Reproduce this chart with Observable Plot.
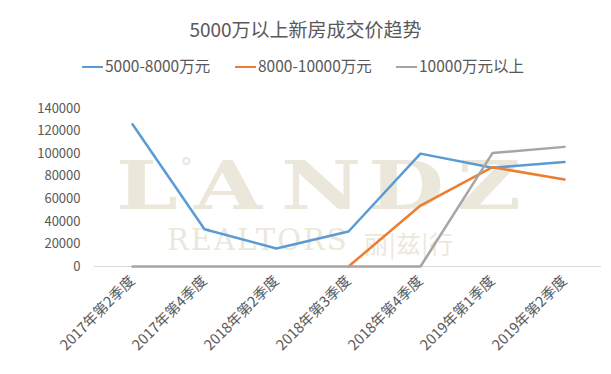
<!DOCTYPE html>
<html>
<head>
<meta charset="utf-8">
<script src="https://cdn.jsdelivr.net/npm/d3@7"></script>
<script src="https://cdn.jsdelivr.net/npm/@observablehq/plot@0.6"></script>
<style>
  html, body { margin: 0; padding: 0; background: #fff; }
  #wrap { position: relative; width: 611px; height: 374px; font-family: "Noto Sans CJK SC", "Noto Sans", sans-serif; color: #595959; overflow: hidden; }
  #title { position: absolute; left: 0; width: 611px; top: 16px; text-align: center; font-size: 19px; line-height: 26px; }
  .leg { position: absolute; top: 54px; font-size: 15.5px; line-height: 22px; white-space: nowrap; }
  .leg span.sw { display: inline-block; width: 21px; height: 2.5px; vertical-align: middle; margin-right: 2px; position: relative; top: -1px; }
  #plot { position: absolute; left: 0; top: 85px; }
  .wm { position: absolute; color: #ebe8db; white-space: nowrap; font-family: "DejaVu Serif", "Liberation Serif", serif; }
  .big { font-size: 68px; font-weight: bold; line-height: 60px; top: 155px; transform: scaleX(1.29); transform-origin: left top; }
  .ring { font-size: 25px; font-weight: bold; line-height: 24px; top: 155px; }
</style>
</head>
<body>
<div id="wrap">
  <div id="wm"></div>
  <div class="wm ring" style="left:180px;">°</div>
  <div class="wm" style="left:167px; top:224px; font-size:29px; letter-spacing:2px; line-height:32px;">REALTORS</div>
  <div class="wm" style="left:364px; top:228px; font-size:24px; letter-spacing:1px; line-height:30px; font-family:'Noto Sans CJK SC';">丽|兹|行</div>
  <div id="title"></div>
  <div id="legend"></div>
  <div id="plot"></div>
</div>
<script>
const categories = ["2017年第2季度", "2017年第4季度", "2018年第2季度", "2018年第3季度", "2018年第4季度", "2019年第1季度", "2019年第2季度"];
const seriesNames = ["5000-8000万元", "8000-10000万元", "10000万元以上"];
const seriesColors = ["#5b9bd5", "#ed7d31", "#a5a5a5"];
const values5000to8000 = [126000, 33000, 16000, 31000, 100000, 87500, 92500];
const values8000to10000 = [null, null, null, 0, 54000, 88000, 77000];
const values10000plus = [0, 0, 0, 0, 0, 100500, 106000];
const yTicks = [0, 20000, 40000, 60000, 80000, 100000, 120000, 140000];
const titleText = "5000万以上新房成交价趋势";
const watermarkLetters = ["L", "A", "N", "D", "Z"];

document.getElementById("title").textContent = titleText;

// watermark letters
const wmLefts = [116, 194, 281, 368, 457];
const wmEl = document.getElementById("wm");
watermarkLetters.forEach((ch, i) => {
  const s = document.createElement("div");
  s.className = "wm big";
  s.style.left = wmLefts[i] + "px";
  s.textContent = ch;
  wmEl.appendChild(s);
});

const legendLefts = [82, 235, 396];
const legendEl = document.getElementById("legend");
seriesNames.forEach((name, i) => {
  const d = document.createElement("div");
  d.className = "leg";
  d.style.left = legendLefts[i] + "px";
  d.innerHTML = `<span class="sw" style="background:${seriesColors[i]}"></span>${name}`;
  legendEl.appendChild(d);
});

const allSeries = [values5000to8000, values8000to10000, values10000plus];
const data = [];
allSeries.forEach((vals, si) => {
  vals.forEach((v, ci) => {
    if (v !== null) data.push({series: seriesNames[si], category: categories[ci], value: v});
  });
});

const chart = Plot.plot({
  width: 611,
  height: 289,
  marginLeft: 94,
  marginRight: 10,
  marginTop: 23,
  marginBottom: 108,
  style: {background: "transparent", fontFamily: "'Noto Sans CJK SC', 'Noto Sans', sans-serif", fontSize: "13px", color: "#595959"},
  x: {type: "band", domain: categories, padding: 0},
  y: {domain: [0, 140000], ticks: yTicks},
  color: {domain: seriesNames, range: seriesColors},
  marks: [
    Plot.ruleY([0], {stroke: "#d9d9d9", strokeWidth: 1}),
    Plot.axisY({ticks: yTicks, tickSize: 0, tickPadding: 14, tickFormat: d => String(d), label: null, fill: "#595959", fontSize: 13}),
    Plot.axisX({tickSize: 0, tickRotate: -45, tickPadding: 12, label: null, fill: "#595959", fontSize: 14.5}),
    Plot.line(data, {x: "category", y: "value", z: "series", stroke: "series", strokeWidth: 2.5, strokeLinejoin: "round", strokeLinecap: "round"})
  ]
});
document.getElementById("plot").appendChild(chart);
</script>
</body>
</html>
